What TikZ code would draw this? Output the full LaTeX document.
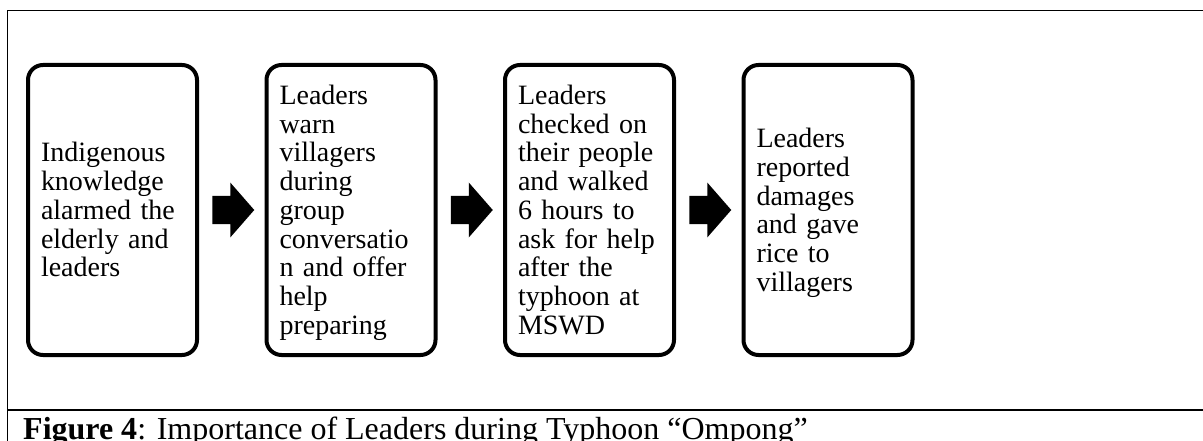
\documentclass[tikz,border=0pt]{standalone}
\usepackage{fontspec}
\setmainfont{Liberation Serif}
\usetikzlibrary{calc}
\newcommand\tstr{\rule{0pt}{25.5pt}}
\newcommand\bstr{\rule[-6.5pt]{0pt}{6.5pt}}
\tikzset{
  stepbox/.style={draw, line width=4pt, rounded corners=15pt,
    minimum width=169pt, minimum height=290pt, inner xsep=13pt, inner ysep=0pt,
    text width=143pt, align=left,
    font=\fontsize{28}{28.75}\selectfont},
  frameline/.style={line width=1.5pt},
}
\newcommand\blockarrow[1]{%
  \fill (#1) ++(-21,-14) -- ++(18,0) -- ++(0,-13.5) -- ++(24,27.5)
    -- ++(-24,27.5) -- ++(0,-13.5) -- ++(-18,0) -- cycle;}
\begin{document}
\begin{tikzpicture}[x=1pt,y=-1pt]
\useasboundingbox (0,0) rectangle (1203,441);
% frame
\coordinate (ftl) at (7.5,10.5);
\coordinate (ftr) at (1204,10.5);
\coordinate (fbl) at (7.5,445);
\coordinate (dl) at (7.5,410);
\coordinate (dr) at (1204,410);
\draw[frameline] (fbl) -- (ftl) -- (ftr);
\draw[frameline] (dl) -- (dr);
% boxes
\node[stepbox] (b1) at (112.5,210) {\tstr Indigenous\\knowledge\\alarmed the\\elderly and\\leaders\bstr};
\node[stepbox] (b2) at (351,210) {\tstr Leaders\\warn\\villagers\\during\\group\\conversatio\\n and offer\\help\\preparing\bstr};
\node[stepbox] (b3) at (589.5,210) {\tstr Leaders\\checked on\\their people\\and walked\\6 hours to\\ask for help\\after the\\typhoon at\\MSWD\bstr};
\node[stepbox] (b4) at (828,210) {\tstr Leaders\\reported\\damages\\and gave\\rice to\\villagers\bstr};
% arrows
\coordinate (a1) at ($(b1.east)!0.5!(b2.west)+(1.5,0)$);
\coordinate (a2) at ($(b2.east)!0.5!(b3.west)+(1.5,0)$);
\coordinate (a3) at ($(b3.east)!0.5!(b4.west)+(1.5,0)$);
\blockarrow{a1}
\blockarrow{a2}
\blockarrow{a3}
% caption
\node[anchor=base west, inner sep=0pt, font=\fontsize{32}{36}\selectfont] (cap) at (23,439)
  {\textbf{Figure 4}: Importance of Leaders during Typhoon “Ompong”};
\end{tikzpicture}
\end{document}
